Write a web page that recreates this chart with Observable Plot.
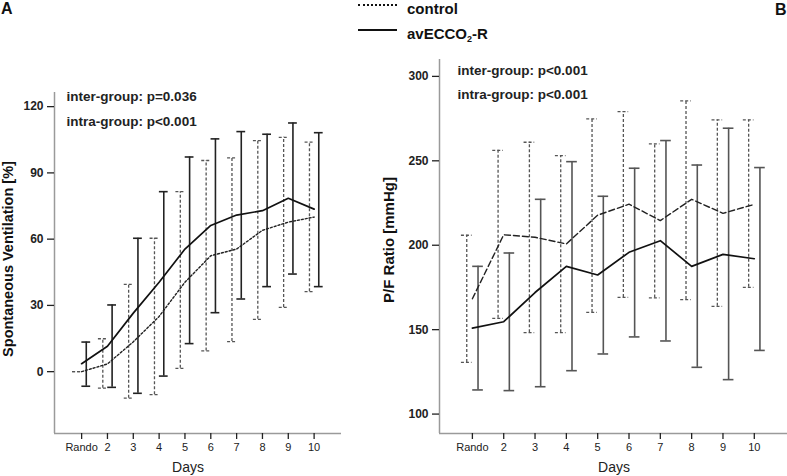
<!DOCTYPE html>
<html><head><meta charset="utf-8">
<script src="https://cdn.jsdelivr.net/npm/d3@7"></script>
<script src="https://cdn.jsdelivr.net/npm/@observablehq/plot@0.6"></script>
<style>
body{margin:0;background:#fff;font-family:"Liberation Sans",Arial,sans-serif;color:#111;}
#wrap{position:relative;width:787px;height:476px;overflow:hidden;background:#fff;}
.abs{position:absolute;white-space:nowrap;line-height:1;}
.panel{position:absolute;top:0;}
.rot{transform:translate(-50%,-50%) rotate(-90deg);}
.ctr{transform:translate(-50%,-50%);}
</style></head><body><div id="wrap"></div><script>
// ---- shared categories ----
const dayLabels = ["Rando","2","3","4","5","6","7","8","9","10"];
const dayIndex = [1,2,3,4,5,6,7,8,9,10];
const groups = ["control","avECCO2-R"];

// ---- Panel A: Spontaneous Ventilation [%] ----
const ventControlMean = [0,3.5,13.5,25,40.5,52.5,55.5,64,67.7,70];
const ventControlLow  = [0,-7.5,-12,-10.4,1.5,9.4,13.6,23.7,29.1,36.2];
const ventControlHigh = [0,14.9,39.5,60.4,81.5,95.6,96.8,104.6,106.1,103.9];
const ventEccoMean = [3.6,11.5,26.5,40.5,55.5,66.2,70.9,72.9,78.5,73.6];
const ventEccoLow  = [-6.6,-7.1,-9.8,-2.0,12.7,26.7,32.9,38.5,44.2,38.5];
const ventEccoHigh = [13.4,30.2,60.4,81.5,97.2,105.4,108.7,107.5,112.6,108.2];
const ventTicks = [0,30,60,90,120];
const ventNotes = ["inter-group: p=0.036","intra-group: p<0.001"];

// ---- Panel B: P/F Ratio [mmHg] ----
const pfControlMean = [168.3,206.2,204.7,200.8,217.8,224.3,214.6,227.2,218.9,224.2];
const pfControlLow  = [130.6,156.7,148.2,148.2,160.2,169.1,168.8,167.8,163.8,175.1];
const pfControlHigh = [205.9,256.2,261,253.1,274.8,279.1,260,285.5,274.2,274.2];
const pfEccoMean = [150.9,154.7,172,187.5,182.4,195.8,202.7,187.5,194.6,192];
const pfEccoLow  = [114.3,113.9,116.2,125.7,135.6,145.7,143.3,127.7,120.4,137.7];
const pfEccoHigh = [187.5,195.4,227.2,249.5,229,245.6,262,247.5,269.3,246];
const pfTicks = [100,150,200,250,300];
const pfNotes = ["inter-group: p<0.001","intra-group: p<0.001"];

function rowsFrom(group, mean, low, high){
  return dayIndex.map((d,i)=>({day:d, group, mean:mean[i], low:low[i], high:high[i]}));
}

const xDomain = [-0.05, 11.06];
const barOffset = {"control": -0.18, "avECCO2-R": 0.18};
const capHalf = 0.17;

function makePanel(o){
  const ctrl = rowsFrom(groups[0], o.cMean, o.cLow, o.cHigh);
  const ecco = rowsFrom(groups[1], o.eMean, o.eLow, o.eHigh);
  const bx = d => d.day + barOffset[d.group];
  const caps = rows => rows.flatMap(d => [{...d, y:d.low}, {...d, y:d.high}]);
  return Plot.plot({
    width:o.width, height:476,
    marginLeft:o.ml, marginRight:o.mr, marginTop:o.mt, marginBottom:o.mb,
    style:{fontFamily:"'Liberation Sans',Arial,sans-serif", background:"#fff", color:"#222"},
    x:{domain:xDomain},
    y:{domain:o.yDomain},
    marks:[
      Plot.ruleX([xDomain[0]], {stroke:"#9a9a9a", strokeWidth:1.5}),
      Plot.ruleY([o.yDomain[0]], {stroke:"#9a9a9a", strokeWidth:1.5}),
      Plot.axisY({ticks:o.yTicks, tickSize:7, tickPadding:4, label:null, fontSize:12, fontWeight:"bold", stroke:"#222", strokeWidth:1.3}),
      Plot.axisX({ticks:dayIndex, tickFormat:d=>dayLabels[d-1], tickSize:6, tickPadding:4, label:null, fontSize:11, stroke:"#222", strokeWidth:1.3}),
      // control error bars (dashed)
      Plot.ruleX(ctrl, {x:bx, y1:"low", y2:"high", stroke:"#555", strokeWidth:1.3, strokeDasharray:"3,2"}),
      Plot.ruleY(caps(ctrl), {y:"y", x1:d=>bx(d)-capHalf, x2:d=>bx(d)+capHalf, stroke:"#555", strokeWidth:1.3, strokeDasharray:"3,2"}),
      // avECCO2-R error bars (solid)
      Plot.ruleX(ecco, {x:bx, y1:"low", y2:"high", stroke:o.eBarColor, strokeWidth:1.6}),
      Plot.ruleY(caps(ecco), {y:"y", x1:d=>bx(d)-capHalf, x2:d=>bx(d)+capHalf, stroke:o.eBarColor, strokeWidth:1.6}),
      // mean lines
      Plot.line(ctrl, {x:"day", y:"mean", curve:o.curve, stroke:"#222", strokeWidth:1.4, strokeDasharray:o.cDash}),
      Plot.line(ecco, {x:"day", y:"mean", curve:o.curve, stroke:"#111", strokeWidth:1.7}),
      Plot.text([o.notes[0]], {text:d=>d, frameAnchor:"top-left", textAnchor:"start", lineAnchor:"middle", dx:o.ndx, dy:o.ndy1, fontSize:13.5, fontWeight:"bold", fill:"#222"}),
      Plot.text([o.notes[1]], {text:d=>d, frameAnchor:"top-left", textAnchor:"start", lineAnchor:"middle", dx:o.ndx, dy:o.ndy2, fontSize:13.5, fontWeight:"bold", fill:"#222"})
    ]
  });
}

const wrap = document.getElementById("wrap");
const pA = makePanel({width:393, ml:54, mr:52, mt:92, mb:43, yDomain:[-28,126.4], yTicks:ventTicks,
  cMean:ventControlMean, cLow:ventControlLow, cHigh:ventControlHigh,
  eMean:ventEccoMean, eLow:ventEccoLow, eHigh:ventEccoHigh,
  eBarColor:"#222", curve:"linear", cDash:"2,2", notes:ventNotes, ndx:12, ndy1:4, ndy2:29});
pA.classList.add("panel"); pA.style.left="0px";
wrap.appendChild(pA);

const pB = makePanel({width:394, ml:46, mr:0, mt:59, mb:43, yDomain:[88.5,310], yTicks:pfTicks,
  cMean:pfControlMean, cLow:pfControlLow, cHigh:pfControlHigh,
  eMean:pfEccoMean, eLow:pfEccoLow, eHigh:pfEccoHigh,
  eBarColor:"#555", curve:"linear", cDash:"6,3", notes:pfNotes, ndx:18, ndy1:11, ndy2:35.5});
pB.classList.add("panel"); pB.style.left="393px";
wrap.appendChild(pB);

// ---- text outside the plotting frames ----
function addText(html, css, cls){
  const d = document.createElement("div");
  d.className = "abs " + (cls||"");
  d.innerHTML = html;
  Object.assign(d.style, css);
  wrap.appendChild(d);
  return d;
}
addText("A", {left:"1px", top:"1px", fontSize:"16px", fontWeight:"bold"});
addText("B", {left:"775px", top:"2px", fontSize:"16px", fontWeight:"bold"});
addText("Spontaneous Ventilation [%]", {left:"8px", top:"259px", fontSize:"14.5px", fontWeight:"bold"}, "rot");
addText("P/F Ratio [mmHg]", {left:"388px", top:"240px", fontSize:"15px", fontWeight:"bold"}, "rot");
addText("Days", {left:"188px", top:"467px", fontSize:"14px", color:"#222"}, "ctr");
addText("Days", {left:"614px", top:"467px", fontSize:"14px", color:"#222"}, "ctr");

// legend
const leg = [
  {label:"control", dash:"2px dotted #111", y:4.5, ty:7.5},
  {label:"avECCO<sub style='font-size:9px;vertical-align:-3px;line-height:0'>2</sub>-R", dash:"2px solid #111", y:30, ty:33}
];
leg.forEach(l=>{
  addText("", {left:"358px", top:(l.y-1)+"px", width:"39px", height:"0px", borderTop:l.dash});
  addText(l.label, {left:"407px", top:l.ty+"px", fontSize:"15px", fontWeight:"bold", transform:"translateY(-50%)"});
});
</script></body></html>
